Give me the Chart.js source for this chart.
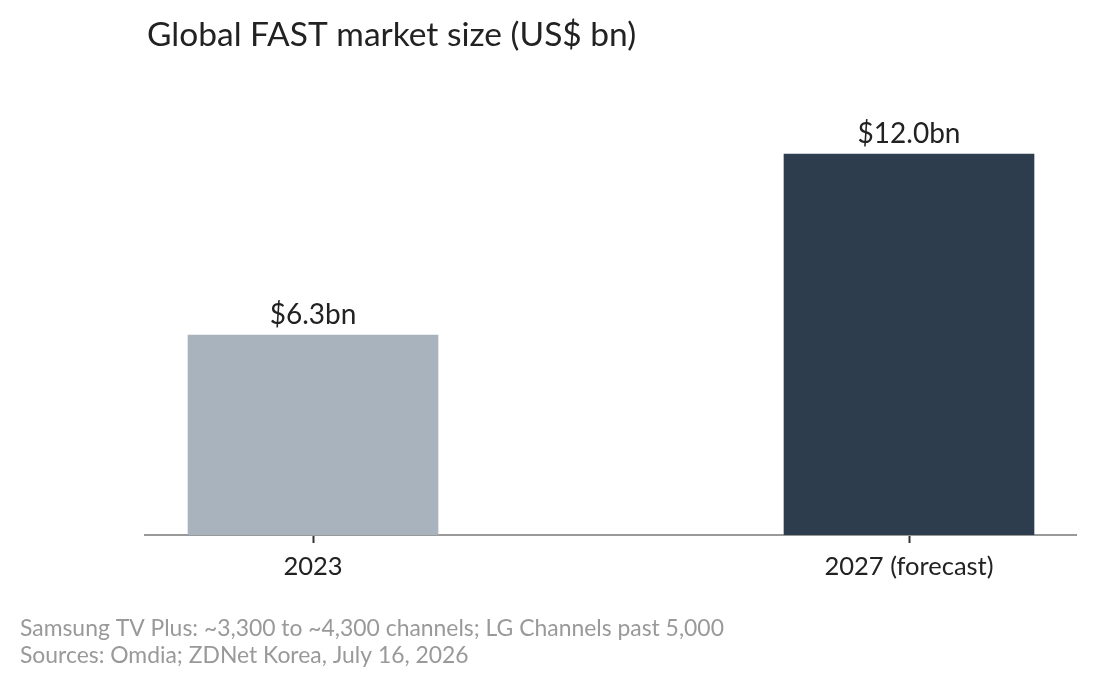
<!DOCTYPE html>
<html>
<head>
<meta charset="utf-8">
<script src="https://cdn.jsdelivr.net/npm/chart.js@4"></script>
<style>
  html, body { margin: 0; padding: 0; background: #fff; }
  #wrap { width: 1096px; height: 687px; }
</style>
</head>
<body>
<div id="wrap"><canvas id="fastChart"></canvas></div>
<script>
const categories = ['2023', '2027 (forecast)'];
const positions = [0, 1];
const marketSize = [6.3, 12.0];
const valueLabels = ['$6.3bn', '$12.0bn'];
const barColors = ['#a9b3bd', '#2e3d4e'];
const titleText = 'Global FAST market size (US$ bn)';
const notes = [
  'Samsung TV Plus: ~3,300 to ~4,300 channels; LG Channels past 5,000',
  'Sources: Omdia; ZDNet Korea, July 16, 2026'
];

const FONT = 'Lato, "Noto Sans", sans-serif';

// title, footnotes and the value labels over each bar
const textPlugin = {
  id: 'texts',
  afterDraw(chart) {
    const ctx = chart.ctx;
    ctx.save();
    ctx.fillStyle = '#222';
    ctx.font = '33.5px ' + FONT;
    ctx.textAlign = 'left';
    ctx.textBaseline = 'alphabetic';
    ctx.fillText(titleText, 147, 46);

    ctx.fillStyle = '#999';
    ctx.font = '22.9px ' + FONT;
    notes.forEach((line, i) => ctx.fillText(line, 20, 636 + i * 27));

    const meta = chart.getDatasetMeta(0);
    ctx.fillStyle = '#222';
    ctx.font = '28px ' + FONT;
    ctx.textAlign = 'center';
    meta.data.forEach((bar, i) => {
      ctx.fillText(valueLabels[i], bar.x, bar.y - 11);
    });
    ctx.restore();
  }
};

new Chart(document.getElementById('fastChart'), {
  type: 'bar',
  data: {
    datasets: [{
      data: positions.map((x, i) => ({ x: x, y: marketSize[i] })),
      backgroundColor: barColors,
      borderWidth: 0,
      barThickness: 250
    }]
  },
  options: {
    responsive: true,
    maintainAspectRatio: false,
    animation: false,
    layout: { padding: { top: 116, left: 145, right: 20, bottom: 0 } },
    plugins: {
      legend: { display: false },
      tooltip: { enabled: false }
    },
    scales: {
      x: {
        type: 'linear',
        offset: false,
        min: -0.2819,
        max: 1.2802,
        afterBuildTicks: (scale) => { scale.ticks = positions.map(v => ({ value: v })); },
        afterFit: (scale) => { scale.height = 152; },
        grid: {
          offset: false,
          drawOnChartArea: false,
          drawTicks: true,
          tickLength: 8,
          tickColor: '#333',
          tickWidth: 2
        },
        border: { display: true, color: '#999', width: 2 },
        ticks: {
          padding: 8,
          color: '#222',
          font: { family: FONT, size: 25.5 },
          callback: (v) => categories[positions.indexOf(v)] ?? ''
        }
      },
      y: {
        display: false,
        min: 0,
        max: 13.2
      }
    }
  },
  plugins: [textPlugin]
});
</script>
</body>
</html>
